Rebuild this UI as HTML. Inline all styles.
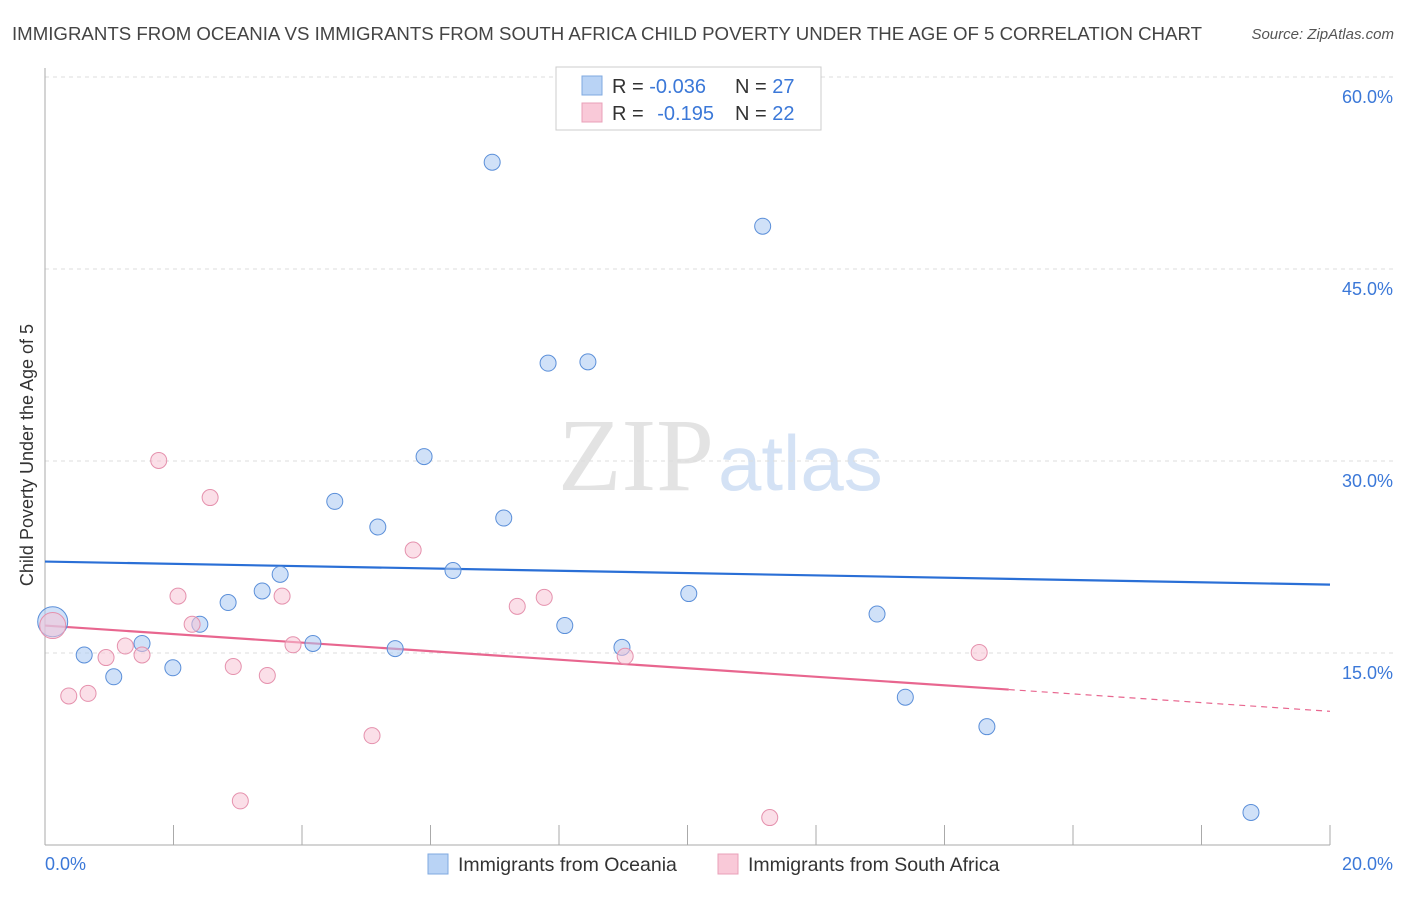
<!DOCTYPE html>
<html><head><meta charset="utf-8"><style>
body{margin:0;background:#fff;font-family:"Liberation Sans",sans-serif;}
svg text{font-family:"Liberation Sans",sans-serif;}
</style></head><body>
<svg id="chart" width="1406" height="892" xmlns="http://www.w3.org/2000/svg">
<text x="12" y="40" font-size="18" fill="#444" textLength="1190" lengthAdjust="spacingAndGlyphs">IMMIGRANTS FROM OCEANIA VS IMMIGRANTS FROM SOUTH AFRICA CHILD POVERTY UNDER THE AGE OF 5 CORRELATION CHART</text>
<text x="1394" y="39" font-size="15" fill="#555" font-style="italic" text-anchor="end">Source: ZipAtlas.com</text>
<text x="714" y="490" font-size="104" fill="#e3e3e3" text-anchor="end" style="font-family:'Liberation Serif',serif">ZIP</text>
<text x="718" y="490" font-size="78" fill="#d4e2f5">atlas</text>
<g id="grid"></g>
<g id="axes"></g>
<g id="lines"></g>
<g id="points"></g>
<text x="33" y="455" font-size="18" fill="#333" text-anchor="middle" transform="rotate(-90 33 455)">Child Poverty Under the Age of 5</text>
<text x="45" y="870" font-size="18" fill="#3b78d8">0.0%</text>
<text x="1393" y="870" font-size="18" fill="#3b78d8" text-anchor="end">20.0%</text>
<g>
<rect x="556" y="67" width="265" height="63" fill="#fff" stroke="#ccc"/>
<rect x="582" y="76" width="20" height="19" fill="#b9d3f5" stroke="#7fa9e0"/>
<rect x="582" y="103" width="20" height="19" fill="#f9c9d8" stroke="#e9a0b8"/>
<text x="612" y="93" font-size="20" fill="#333">R = <tspan fill="#3b78d8">-0.036</tspan></text>
<text x="735" y="93" font-size="20" fill="#333">N = <tspan fill="#3b78d8">27</tspan></text>
<text x="612" y="120" font-size="20" fill="#333">R = <tspan fill="#3b78d8" dx="8">-0.195</tspan></text>
<text x="735" y="120" font-size="20" fill="#333">N = <tspan fill="#3b78d8">22</tspan></text>
</g>
<g>
<rect x="428" y="854" width="20" height="20" fill="#b9d3f5" stroke="#7fa9e0"/>
<text x="458" y="871" font-size="19.5" fill="#333">Immigrants from Oceania</text>
<rect x="718" y="854" width="20" height="20" fill="#f9c9d8" stroke="#e9a0b8"/>
<text x="748" y="871" font-size="19.5" fill="#333">Immigrants from South Africa</text>
</g>
</svg>
<script>
const yTicks=[15,30,45,60];
const yTickLabels=["15.0%","30.0%","45.0%","60.0%"];
const xTicks=[0,2,4,6,8,10,12,14,16,18,20];
const oceaniaX=[0.12,0.61,1.07,1.51,1.99,2.41,2.85,3.38,3.66,4.17,4.51,5.18,5.45,5.90,6.35,6.96,7.14,7.83,8.09,8.45,8.98,10.02,11.17,12.95,13.39,14.66,18.77];
const oceaniaY=[17.6,15.0,13.3,15.9,14.0,17.4,19.1,20.0,21.3,15.9,27.0,25.0,15.5,30.5,21.6,53.5,25.7,37.8,17.3,37.9,15.6,19.8,48.5,18.2,11.7,9.4,2.7];
const safricaX=[0.12,0.37,0.67,0.95,1.25,1.51,1.77,2.07,2.29,2.57,2.93,3.04,3.46,3.69,3.86,5.09,5.73,7.35,7.77,9.03,11.28,14.54];
const safricaY=[17.3,11.8,12.0,14.8,15.7,15.0,30.2,19.6,17.4,27.3,14.1,3.6,13.4,19.6,15.8,8.7,23.2,18.8,19.5,14.9,2.3,15.2];
const oceaniaTrend=[22.3,20.5];
const safricaTrend=[17.3,12.3,10.6];
const safricaTrendX=[0,15,20];
const NS="http://www.w3.org/2000/svg";
const xs=v=>45+v/20*1285;
const ys=v=>847-v/15*192;
function mk(t,a,p){const e=document.createElementNS(NS,t);for(const k in a)e.setAttribute(k,a[k]);p.appendChild(e);return e;}
const grid=document.getElementById('grid'),axes=document.getElementById('axes');
yTicks.forEach((t,i)=>{
 const l=mk('line',{x1:45,x2:1393,y1:ys(t)-2,y2:ys(t)-2,stroke:'#ddd','stroke-dasharray':'4,4'},grid);
 
 
 const tx=mk('text',{x:1393,y:ys(t)+24,'font-size':18,fill:'#3b78d8','text-anchor':'end'},grid);
 tx.textContent=yTickLabels[i];
 
 
});
const ax=mk('line',{x1:45,x2:1330,y1:845,y2:845,stroke:'#aaa'},axes);


const ay=mk('line',{x1:45,x2:45,y1:68,y2:845,stroke:'#aaa'},axes);


xTicks.forEach(t=>{
 const l=mk('line',{x1:xs(t),x2:xs(t),y1:825,y2:845,stroke:'#aaa'},axes);
 
 
});
const lines=document.getElementById('lines');
const bl=mk('line',{x1:xs(0),x2:xs(20),y1:ys(oceaniaTrend[0]),y2:ys(oceaniaTrend[1]),stroke:'#2a6fd6','stroke-width':2.2},lines);


const pl=mk('line',{x1:xs(safricaTrendX[0]),x2:xs(safricaTrendX[1]),y1:ys(safricaTrend[0]),y2:ys(safricaTrend[1]),stroke:'#e8668f','stroke-width':2.2},lines);


const pd=mk('line',{x1:xs(safricaTrendX[1]),x2:xs(safricaTrendX[2]),y1:ys(safricaTrend[1]),y2:ys(safricaTrend[2]),stroke:'#e8668f','stroke-width':1.2,'stroke-dasharray':'6,5'},lines);


const pts=document.getElementById('points');
oceaniaX.forEach((x,i)=>{
 const c=mk('circle',{cx:xs(x),cy:ys(oceaniaY[i]),r:i===0?15:8,fill:'rgba(170,200,242,0.55)',stroke:'#5b8fd9','stroke-width':1},pts);
 
 
});
safricaX.forEach((x,i)=>{
 const c=mk('circle',{cx:xs(x),cy:ys(safricaY[i]),r:i===0?13:8,fill:'rgba(248,196,214,0.55)',stroke:'#e591ad','stroke-width':1},pts);
 
 
});
</script>
</body></html>
